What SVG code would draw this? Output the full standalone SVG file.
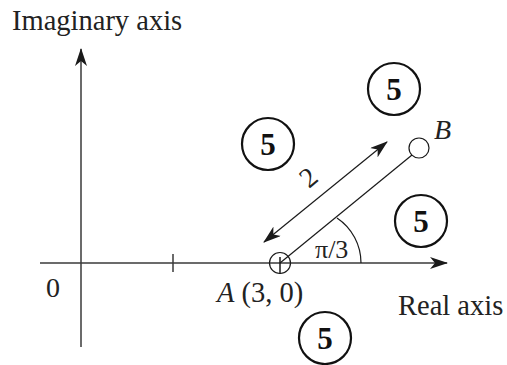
<svg xmlns="http://www.w3.org/2000/svg" width="507" height="365" viewBox="0 0 507 365">
<style>
.ax{stroke:#3a3a3a;stroke-width:1.5;fill:none}
.ln{stroke:#1a1a1a;stroke-width:1.2;fill:none}
.t{font-family:"Liberation Serif",serif;fill:#222}
.it{font-style:italic}
.c5{fill:none;stroke:#111;stroke-width:2.2}
.n5{font-family:"Liberation Serif",serif;font-weight:bold;font-size:31px;fill:#111;text-anchor:middle}
</style>
<defs>
<marker id="ah" markerWidth="18" markerHeight="12" refX="17" refY="6" orient="auto" markerUnits="userSpaceOnUse">
<path d="M0,0 L18,6 L0,12 L5,6 Z" fill="#1a1a1a"/>
</marker>
<marker id="ahs" markerWidth="18" markerHeight="12" refX="17" refY="6" orient="auto-start-reverse" markerUnits="userSpaceOnUse">
<path d="M0,0 L18,6 L0,12 L5,6 Z" fill="#1a1a1a"/>
</marker>
</defs>
<g id="connectors">
<line class="ax" x1="40" y1="263" x2="447" y2="263" marker-end="url(#ah)"/>
<line class="ax" x1="81" y1="347" x2="81" y2="49" marker-end="url(#ah)"/>
<line class="ax" x1="173" y1="254" x2="173" y2="272"/>
<line class="ln" x1="280" y1="263" x2="412" y2="155"/>
<line class="ln" x1="264" y1="242" x2="387" y2="142" marker-start="url(#ahs)" marker-end="url(#ahs)"/>
<path class="ln" d="M337,218 A54,54 0 0,1 361,263"/>
</g>
<g id="pointA">
<circle class="ln" cx="280" cy="263" r="10.5"/>
<line class="ln" x1="280" y1="257" x2="280" y2="274" style="stroke-width:1.5"/>
</g>
<g id="pointB">
<circle class="ln" cx="419" cy="148" r="10"/>
</g>
<g id="labels">
<text class="t" x="12" y="30" font-size="28.5">Imaginary axis</text>
<text class="t" x="46" y="297" font-size="28">0</text>
<text class="t" x="217" y="302" font-size="28.5"><tspan class="it">A</tspan> (3, 0)</text>
<text class="t" x="398" y="315" font-size="28.5">Real axis</text>
<text class="t it" x="434" y="139" font-size="28">B</text>
<text class="t" x="315" y="258" font-size="26">π/3</text>
<text class="t" x="0" y="0" font-size="28" transform="translate(309,189) rotate(-40)">2</text>
</g>
<g id="n5-top"><circle class="c5" cx="394" cy="89" r="26"/><text class="n5" x="394" y="100">5</text></g>
<g id="n5-left"><circle class="c5" cx="268" cy="144" r="26"/><text class="n5" x="268" y="155">5</text></g>
<g id="n5-right"><circle class="c5" cx="421" cy="221" r="26"/><text class="n5" x="421" y="232">5</text></g>
<g id="n5-bottom"><circle class="c5" cx="325" cy="338" r="26"/><text class="n5" x="325" y="349">5</text></g>
</svg>
